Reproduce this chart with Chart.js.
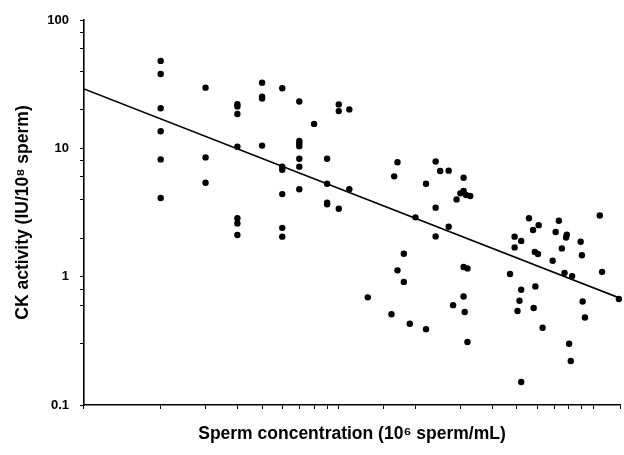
<!DOCTYPE html>
<html>
<head>
<meta charset="utf-8">
<script src="https://cdn.jsdelivr.net/npm/chart.js@4"></script>
<style>
    body { margin: 0; background: #fff; }
    #wrap { width: 624px; height: 455px; position: relative; }
</style>
</head>
<body>
<div id="wrap"><canvas id="ckChart"></canvas></div>
<script>
/* Data */
const concentration = [
    2, 2, 2, 2, 2, 2,
    3, 3, 3,
    4, 4, 4, 4, 4, 4, 4,
    5, 5, 5, 5,
    6, 6, 6, 6, 6, 6,
    7, 7, 7, 7, 7, 7, 7,
    8,
    9, 9, 9, 9,
    10, 10, 10,
    11, 11,
    13, 16.1, 16.5, 17, 17, 18, 18, 19, 20, 22, 22,
    24, 24, 24, 25, 27, 27, 28.1, 29, 30,
    30.9, 30.9, 30.9, 30.9, 31.2, 31.6, 32, 32, 32.8,
    47, 49, 49, 50.3, 51.2, 52, 52, 52, 55.8, 57.9, 58.2, 58.8, 59.1,
    60.5, 60.9, 63.1, 69.1, 71, 73.1, 75.1, 76.9, 78, 78.5,
    80.2, 81.4, 82.4, 89, 90, 90.6, 92.5, 105.8, 108, 125.7
];
const ckActivity = [
    48, 38, 20.5, 13.6, 8.2, 4.1,
    29.7, 8.5, 5.4,
    22.1, 21.2, 18.5, 10.3, 2.85, 2.6, 2.11,
    32.5, 25.3, 24.4, 10.5,
    29.4, 7.2, 6.8, 4.4, 2.4, 2.05,
    23.2, 11.4, 10.9, 10.4, 8.3, 7.2, 4.8,
    15.5,
    8.3, 5.3, 3.77, 3.66,
    22, 19.5, 3.38,
    20.1, 4.8,
    0.69, 0.51, 6.05, 7.8, 1.12, 1.51, 0.91, 0.43, 2.9, 5.3, 0.39,
    7.9, 3.45, 2.06, 6.65, 6.7, 2.45, 0.6, 4.0, 4.46,
    4.65, 5.9, 1.19, 0.7, 0.53, 4.33, 1.16, 0.31, 4.25,
    1.05, 2.05, 1.69, 0.54, 0.65, 1.9, 0.79, 0.151, 2.85, 2.31, 0.57, 1.56, 0.84,
    1.5, 2.52, 0.4, 1.33, 2.23, 2.73, 1.66, 1.07, 2.02, 2.12,
    0.3, 0.22, 1.01, 1.87, 1.47, 0.64, 0.48, 3.0, 1.09, 0.67
];
/* regression line end points */
const fitX = [1, 127];
const fitY = [29, 0.68];
const yTickLabels = [0.1, 1, 10, 100];

const points = concentration.map((x, i) => ({ x: x, y: ckActivity[i] }));
const fitLine = fitX.map((x, i) => ({ x: x, y: fitY[i] }));

const titleFont = { family: "'Liberation Sans', Arial, sans-serif", size: 17.5, weight: "bold" };

const ctx = document.getElementById("ckChart");

new Chart(ctx, {
    type: "scatter",
    data: {
        datasets: [
            {
                data: points,
                backgroundColor: "#000",
                borderWidth: 0,
                pointRadius: 3.2,
                clip: false
            },
            {
                type: "line",
                data: fitLine,
                borderColor: "#000",
                borderWidth: 1.6,
                pointRadius: 0,
                fill: false
            }
        ]
    },
    options: {
        responsive: true,
        maintainAspectRatio: false,
        animation: false,
        layout: { padding: { left: 4, top: 20, right: 0, bottom: 0 } },
        plugins: {
            legend: { display: false },
            tooltip: { enabled: false }
        },
        scales: {
            x: {
                type: "logarithmic",
                min: 1,
                max: 127,
                border: { color: "#000", width: 1.6 },
                grid: { drawOnChartArea: false, drawTicks: true, tickLength: 4, color: "#000" },
                ticks: { display: false },
                title: {
                    display: true,
                    text: "Sperm concentration (10⁶ sperm/mL)",
                    color: "#000",
                    font: titleFont,
                    padding: { top: 14.5, bottom: 10.5 }
                }
            },
            y: {
                type: "logarithmic",
                min: 0.1,
                max: 100,
                border: { color: "#000", width: 1.6 },
                grid: { drawOnChartArea: false, drawTicks: true, tickLength: 4, color: "#000" },
                ticks: {
                    color: "#000",
                    padding: 11,
                    font: { family: "'Liberation Sans', Arial, sans-serif", size: 13, weight: "bold" },
                    callback: (value) => yTickLabels.includes(Number(value.toPrecision(3))) ? String(value) : ""
                },
                title: {
                    display: true,
                    text: "CK activity (IU/10⁸ sperm)",
                    color: "#000",
                    font: titleFont,
                    padding: { top: 8.5, bottom: 2.8 }
                }
            }
        }
    }
});
</script>
</body>
</html>
